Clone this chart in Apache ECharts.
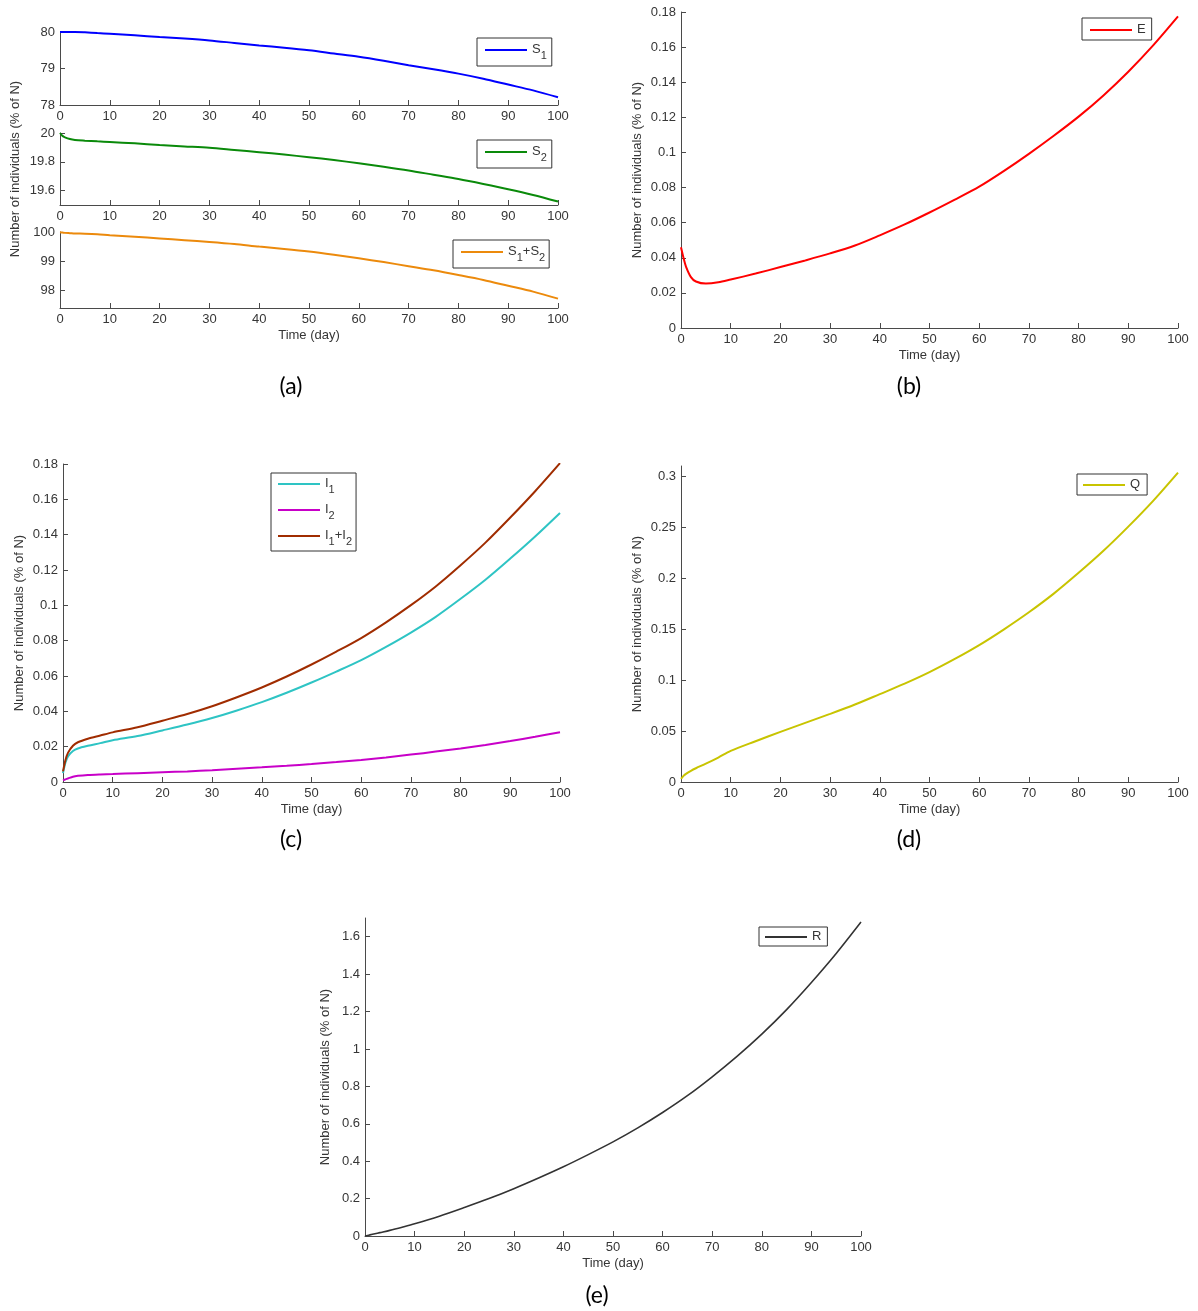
<!DOCTYPE html>
<html>
<head>
<meta charset="UTF-8">
<title>SEIQR simulation</title>
<script src="https://cdn.jsdelivr.net/npm/echarts@6/dist/echarts.min.js"></script>
<style>
body,html{ padding:0px; margin:0px; background:#fff;}
#main{ width:1198px; height:1311px; }
</style>
</head>
<body>
<div id="main"></div>
<script type="text/javascript">
// time points (day)
var days = [0, 0.5, 1, 2, 3, 5, 7.5, 10, 15, 20, 25, 30, 35, 40, 45, 50, 55, 60, 65, 70, 75, 80, 85, 90, 95, 100];

// values, % of N
var S1   = [80.0, 80.0, 80.0, 80.0, 80.0, 79.99, 79.97, 79.95, 79.91, 79.86, 79.82, 79.77, 79.70, 79.63, 79.57, 79.50, 79.41, 79.32, 79.21, 79.09, 78.98, 78.86, 78.72, 78.56, 78.40, 78.21];
var S2   = [20.0, 19.98, 19.97, 19.958, 19.952, 19.947, 19.942, 19.938, 19.928, 19.917, 19.907, 19.897, 19.882, 19.867, 19.85, 19.832, 19.812, 19.79, 19.766, 19.74, 19.71, 19.68, 19.646, 19.61, 19.57, 19.524];
var S12  = [99.99, 99.98, 99.97, 99.96, 99.95, 99.94, 99.92, 99.89, 99.84, 99.78, 99.72, 99.66, 99.59, 99.50, 99.42, 99.33, 99.22, 99.10, 98.97, 98.83, 98.69, 98.53, 98.36, 98.16, 97.96, 97.72];
var E    = [0.046, 0.040, 0.035, 0.029, 0.0265, 0.0253, 0.026, 0.0276, 0.031, 0.0347, 0.0385, 0.0425, 0.047, 0.0528, 0.059, 0.0658, 0.073, 0.0805, 0.0895, 0.0992, 0.1095, 0.1204, 0.1325, 0.146, 0.161, 0.1775];
var I1   = [0.005, 0.011, 0.0145, 0.0175, 0.019, 0.0205, 0.022, 0.0236, 0.026, 0.0292, 0.0325, 0.0362, 0.0405, 0.0452, 0.0505, 0.0563, 0.0625, 0.069, 0.0765, 0.0846, 0.0935, 0.1037, 0.1145, 0.1265, 0.139, 0.1523];
var I2   = [0.001, 0.0015, 0.002, 0.003, 0.0035, 0.004, 0.0043, 0.0045, 0.005, 0.0055, 0.006, 0.0067, 0.0075, 0.0083, 0.0092, 0.0102, 0.0113, 0.0125, 0.0139, 0.0155, 0.0172, 0.019, 0.021, 0.0232, 0.0256, 0.0282];
var I12  = [0.006, 0.0125, 0.0165, 0.0205, 0.0225, 0.0245, 0.0263, 0.0281, 0.031, 0.0347, 0.0385, 0.0429, 0.048, 0.0535, 0.0597, 0.0665, 0.0738, 0.0815, 0.0904, 0.1001, 0.1107, 0.1227, 0.1355, 0.1497, 0.1646, 0.1805];
var Q    = [0.003, 0.006, 0.008, 0.011, 0.0135, 0.018, 0.024, 0.0305, 0.040, 0.0492, 0.058, 0.0668, 0.076, 0.0862, 0.0965, 0.1078, 0.1205, 0.1343, 0.1498, 0.1665, 0.1848, 0.2052, 0.2268, 0.2505, 0.2758, 0.3035];
var R    = [0.0, 0.003, 0.006, 0.012, 0.018, 0.03, 0.047, 0.065, 0.106, 0.152, 0.2, 0.253, 0.31, 0.37, 0.435, 0.503, 0.578, 0.66, 0.75, 0.851, 0.96, 1.079, 1.21, 1.355, 1.51, 1.678];

// y tick labels of each panel
var ticksS1  = [78, 79, 80];
var ticksS2  = [19.6, 19.8, 20];
var ticksS12 = [98, 99, 100];
var ticksE   = [0, 0.02, 0.04, 0.06, 0.08, 0.1, 0.12, 0.14, 0.16, 0.18];
var ticksI   = [0, 0.02, 0.04, 0.06, 0.08, 0.1, 0.12, 0.14, 0.16, 0.18];
var ticksQ   = [0, 0.05, 0.1, 0.15, 0.2, 0.25, 0.3];
var ticksR   = [0, 0.2, 0.4, 0.6, 0.8, 1, 1.2, 1.4, 1.6];

var FONT = 'Liberation Sans';
var AX = '#4a4a4a';
var TXT = '#363636';
var YNAME = 'Number of individuals (% of N)';

function pairs(v) {
    return days.map(function (d, i) { return [d, v[i]]; });
}

function xAx(gi, named) {
    return {
        type: 'value', gridIndex: gi, min: 0, max: 100, interval: 10,
        name: named ? 'Time (day)' : '', nameLocation: 'middle', nameGap: 21,
        nameTextStyle: { color: TXT, fontSize: 13, fontFamily: FONT },
        axisLine: { lineStyle: { color: AX } },
        axisTick: { inside: true, length: 5, lineStyle: { color: AX } },
        axisLabel: { color: TXT, fontSize: 13, fontFamily: FONT, margin: 5 },
        splitLine: { show: false }
    };
}

function yAx(gi, min, max, ticks, named, gap) {
    return {
        type: 'value', gridIndex: gi, min: min, max: max,
        name: named ? YNAME : '', nameLocation: 'middle', nameGap: gap || 36,
        nameTextStyle: { color: TXT, fontSize: 13, fontFamily: FONT },
        axisLine: { show: true, lineStyle: { color: AX } },
        axisTick: { show: true, inside: true, length: 5, customValues: ticks, lineStyle: { color: AX } },
        axisLabel: { color: TXT, fontSize: 13, fontFamily: FONT, margin: 5, customValues: ticks },
        splitLine: { show: false }
    };
}

function line(name, v, color, gi, w) {
    return {
        name: name, type: 'line', xAxisIndex: gi, yAxisIndex: gi,
        data: pairs(v), symbol: 'none', smooth: 0.3, silent: true,
        lineStyle: { color: color, width: w || 2 }, itemStyle: { color: color }
    };
}

function subFmt(name) {
    return ('{n|' + name.replace(/(\d)/g, '}{s|$1}{n|') + '}').replace(/\{n\|\}/g, '');
}

function leg(names, left, top, pad, gap) {
    return {
        data: names, left: left, top: top, orient: 'vertical',
        borderColor: '#333', borderWidth: 1, borderRadius: 0, padding: pad,
        icon: 'rect', itemWidth: 42, itemHeight: 2, itemGap: gap || 5, selectedMode: false,
        formatter: subFmt,
        textStyle: {
            color: TXT, fontFamily: FONT,
            rich: {
                n: { fontSize: 13, lineHeight: 14, verticalAlign: 'top', color: TXT, fontFamily: FONT },
                s: { fontSize: 11, lineHeight: 12, verticalAlign: 'top', padding: [7, 0, 0, 0], color: TXT, fontFamily: FONT }
            }
        }
    };
}

function label(txt, x, y) {
    return {
        type: 'text', x: x, y: y,
        style: { text: txt, fontSize: 23, fontFamily: 'Lato', fill: '#000', align: 'center', verticalAlign: 'middle' }
    };
}

var chart = echarts.init(document.getElementById('main'));

var option = {
    backgroundColor: '#fff',
    animation: false,
    grid: [
        { left: 60, top: 32, width: 498, height: 73, outerBoundsMode: 'none' },
        { left: 60, top: 133, width: 498, height: 72, outerBoundsMode: 'none' },
        { left: 60, top: 232, width: 498, height: 76, outerBoundsMode: 'none' },
        { left: 681, top: 12, width: 497, height: 316, outerBoundsMode: 'none' },
        { left: 63, top: 464, width: 497, height: 318, outerBoundsMode: 'none' },
        { left: 681, top: 466, width: 497, height: 316, outerBoundsMode: 'none' },
        { left: 365, top: 918, width: 496, height: 318, outerBoundsMode: 'none' }
    ],
    xAxis: [xAx(0), xAx(1), xAx(2, true), xAx(3, true), xAx(4, true), xAx(5, true), xAx(6, true)],
    yAxis: [
        yAx(0, 78, 80, ticksS1),
        yAx(1, 19.5, 20, ticksS2, true, 38),
        yAx(2, 97.4, 100, ticksS12),
        yAx(3, 0, 0.18, ticksE, true, 37),
        yAx(4, 0, 0.18, ticksI, true, 37),
        yAx(5, 0, 0.31, ticksQ, true, 37),
        yAx(6, 0, 1.7, ticksR, true, 33)
    ],
    legend: [
        leg(['S1'], 477, 38, [5, 5, 5, 8]),
        leg(['S2'], 477, 140, [5, 5, 5, 8]),
        leg(['S1+S2'], 453, 240, [5, 4, 5, 8]),
        leg(['E'], 1082, 18, [5, 6, 4, 8]),
        leg(['I1', 'I2', 'I1+I2'], 271, 473, [4, 4, 4, 7], 8),
        leg(['Q'], 1077, 474, [4, 7, 4, 6]),
        leg(['R'], 759, 927, [3, 6, 3, 6])
    ],
    series: [
        line('S1', S1, '#0000ff', 0),
        line('S2', S2, '#0a8a0a', 1),
        line('S1+S2', S12, '#ec8a0c', 2),
        line('E', E, '#ff0000', 3),
        line('I1', I1, '#2ec4c4', 4),
        line('I2', I2, '#c800c8', 4),
        line('I1+I2', I12, '#a02c00', 4),
        line('Q', Q, '#c8c400', 5),
        line('R', R, '#333333', 6, 1.6)
    ],
    graphic: [
        label('(a)', 291, 387),
        label('(b)', 909, 387),
        label('(c)', 291, 840),
        label('(d)', 909, 840),
        label('(e)', 597, 1296)
    ]
};

chart.setOption(option);
</script>
</body>
</html>
